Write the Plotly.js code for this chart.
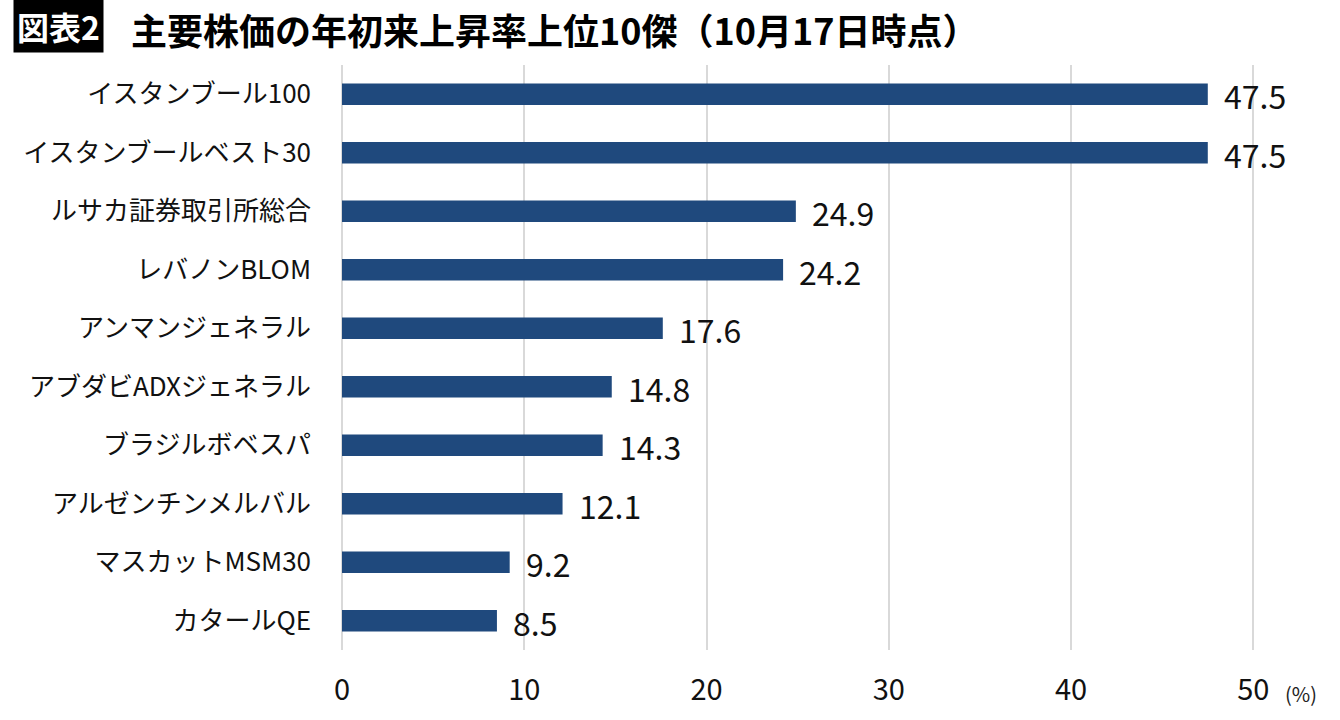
<!DOCTYPE html>
<html><head><meta charset="utf-8">
<script src="https://cdn.plot.ly/plotly-3.0.1.min.js"></script>
<style>html,body{margin:0;padding:0;background:#fff}</style>
</head><body>
<div id="chart" style="width:1340px;height:720px"></div>
<script>
const categories = ["イスタンブール100","イスタンブールベスト30","ルサカ証券取引所総合","レバノンBLOM","アンマンジェネラル","アブダビADXジェネラル","ブラジルボベスパ","アルゼンチンメルバル","マスカットMSM30","カタールQE"];
const values = [47.5,47.5,24.9,24.2,17.6,14.8,14.3,12.1,9.2,8.5];
const xTicks = [0,10,20,30,40,50];
const titleTag = "図表2";
const titleText = "主要株価の年初来上昇率上位10傑（10月17日時点）";
const unitText = "(%)";

const font = "'Noto Sans CJK JP', 'Noto Sans', sans-serif";
const annotations = categories.map((c,i)=>({
  x: values[i], y: c, xref:'x', yref:'y', text: values[i].toFixed(1),
  showarrow:false, xanchor:'left', yanchor:'middle', xshift:14, yshift:-1,
  font:{family:font, size:32, color:'#111'}
}));
annotations.push({xref:'paper', yref:'paper', x:-0.360, y:1.0, yanchor:'bottom', xanchor:'left', yshift:12,
  text:'<b>'+titleTag+'</b>', showarrow:false, bgcolor:'#000', borderpad:3,
  font:{family:font, size:32, color:'#fff'}});
annotations.push({xref:'paper', yref:'paper', x:-0.233, y:1.0, yanchor:'bottom', xanchor:'left', yshift:8,
  text:'<b>'+titleText+'</b>', showarrow:false,
  font:{family:font, size:36, color:'#000'}});
annotations.push({xref:'paper', yref:'paper', x:1.028, y:0, yanchor:'top', xanchor:'left', yshift:-27,
  text:unitText, showarrow:false, font:{family:font, size:20, color:'#222'}});

Plotly.newPlot('chart', [{
  type:'bar', orientation:'h', x: values, y: categories,
  marker:{color:'#1f497d'}, hoverinfo:'none'
}], {
  width:1340, height:720,
  margin:{l:342, r:83, t:65, b:70},
  paper_bgcolor:'#fff', plot_bgcolor:'#fff',
  bargap:0.63,
  showlegend:false,
  xaxis:{range:[0,50.2], tickvals:xTicks, showgrid:true, gridcolor:'#d9d9d9', gridwidth:2,
    zeroline:true, zerolinecolor:'#d9d9d9', zerolinewidth:2, showline:false,
    tickfont:{family:font, size:29, color:'#111'}, ticks:'', ticklabelstandoff:20, fixedrange:true},
  yaxis:{autorange:'reversed', showgrid:false, showline:false, ticks:'',
    tickfont:{family:font, size:26, color:'#111'}, ticklabelstandoff:30},
  annotations: annotations
}, {staticPlot:true});
</script>
</body></html>
